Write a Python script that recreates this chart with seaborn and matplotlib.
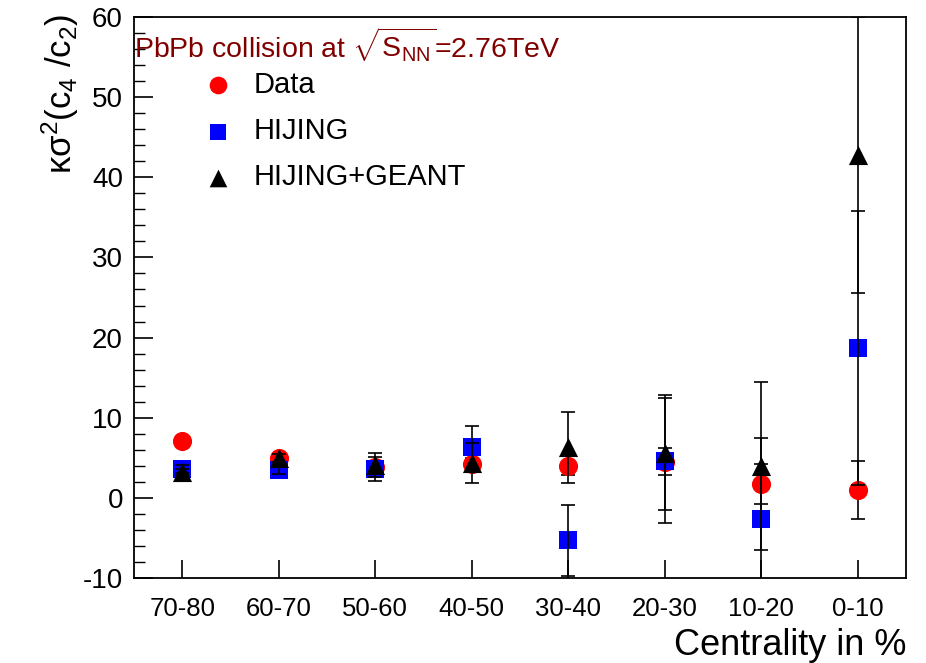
import numpy as np
import pandas as pd
import matplotlib
matplotlib.use("Agg")
import matplotlib.pyplot as plt
import seaborn as sns

# Centrality bins and kappa*sigma^2 values per sample
categories = ["70-80", "60-70", "50-60", "40-50", "30-40", "20-30", "10-20", "0-10"]

data_val = [7.1, 5.0, 3.8, 4.2, 4.0, 4.5, 1.7, 1.0]
data_err = [0.5, 0.5, 0.6, 0.8, 1.2, 1.7, 2.5, 3.6]

hijing_val = [3.6, 3.45, 3.65, 6.3, -5.3, 4.65, -2.7, 18.7]
hijing_err = [0.5, 0.5, 1.5, 2.7, 4.4, 7.75, 10.2, 17.1]

geant_val = [3.2, 5.0, 4.1, 4.3, 6.3, 5.65, 4.0, 42.8]
geant_err = [0.4, 0.5, 1.55, 2.5, 4.4, 7.15, 10.5, 17.2]

series_names = ["Data", "HIJING", "HIJING+GEANT"]

pos = np.arange(len(categories))
frames = []
for name, vals, errs in zip(series_names,
                            [data_val, hijing_val, geant_val],
                            [data_err, hijing_err, geant_err]):
    frames.append(pd.DataFrame({"pos": pos, "cat": categories,
                                "val": vals, "err": errs, "sample": name}))
df = pd.concat(frames, ignore_index=True)

sns.set_theme(style="white")
plt.rcParams["font.family"] = ["Liberation Sans", "DejaVu Sans"]
plt.rcParams["mathtext.fontset"] = "custom"
plt.rcParams["mathtext.rm"] = "Liberation Sans"
plt.rcParams["mathtext.it"] = "Liberation Sans:italic"
plt.rcParams["mathtext.sf"] = "Liberation Sans"
plt.rcParams["axes.unicode_minus"] = False
for key in ["text.color", "axes.labelcolor", "xtick.color", "ytick.color"]:
    plt.rcParams[key] = "black"

fig = plt.figure(figsize=(9.26, 6.63), dpi=100)
ax = fig.add_axes([134 / 926, 85 / 663, 772 / 926, 561 / 663])

colors = {"Data": "#ff0000", "HIJING": "#0000ff", "HIJING+GEANT": "#000000"}
markers = {"Data": "o", "HIJING": "s", "HIJING+GEANT": "^"}
sizes = {"Data": 190, "HIJING": 170, "HIJING+GEANT": 190}
# error bars of the data sit beneath its markers, the simulations' on top
bar_z = {"Data": 2.5, "HIJING": 6, "HIJING+GEANT": 8}

for i, name in enumerate(series_names):
    sub = df[df["sample"] == name]
    sns.scatterplot(data=sub, x="pos", y="val", ax=ax, color=colors[name],
                    marker=markers[name], s=sizes[name], linewidth=0,
                    zorder=3 + 2 * i, legend=False)
    ax.errorbar(sub["pos"], sub["val"], yerr=sub["err"], fmt="none",
                ecolor="black", elinewidth=1.2, capsize=5, capthick=1.2,
                zorder=bar_z[name])

ax.set_xlim(-0.5, len(categories) - 0.5)
ax.set_ylim(-10, 60)
ax.set_xticks(pos, categories)
ax.set_yticks(np.arange(-10, 61, 10))
ax.set_yticks(np.arange(-10, 61, 2), minor=True)

ax.tick_params(axis="y", which="major", direction="in", length=14, width=1.2,
               labelsize=20, pad=8, left=True, right=False)
ax.tick_params(axis="y", which="minor", direction="in", length=8, width=1.0,
               left=True, right=False)
ax.tick_params(axis="x", which="major", direction="in", length=13, width=1.2,
               labelsize=18.5, pad=14, bottom=True, top=False)

for sp in ax.spines.values():
    sp.set_color("black")
    sp.set_linewidth(1.3)

ax.set_xlabel("")
ax.set_ylabel("")
fig.text(906 / 926, 1 - 655 / 663, "Centrality in %", fontsize=26,
         ha="right", va="baseline")
fig.text(60 / 926, 1 - 14 / 663,
         r"$\mathregular{\kappa\sigma^{2}(c_{4}\ /c_{2})}$", fontsize=25,
         rotation=90, ha="center", va="top")

ax.text(0.0, (578 - 58) / 561,
        r"PbPb collision at $\mathregular{\sqrt{S_{NN}}}$=2.76TeV",
        transform=ax.transAxes, fontsize=20.5, color="#800000",
        ha="left", va="baseline")

# legend entries
handles = []
for name in series_names:
    h = ax.scatter([], [], color=colors[name], marker=markers[name],
                   s=sizes[name] * 0.85, linewidth=0)
    handles.append(h)
leg = ax.legend(handles, series_names, loc="upper left",
                bbox_to_anchor=(0.045, 0.94), frameon=False, fontsize=21,
                handletextpad=0.2, labelspacing=0.62, borderpad=0.2)

fig.savefig("out.png", dpi=100)
